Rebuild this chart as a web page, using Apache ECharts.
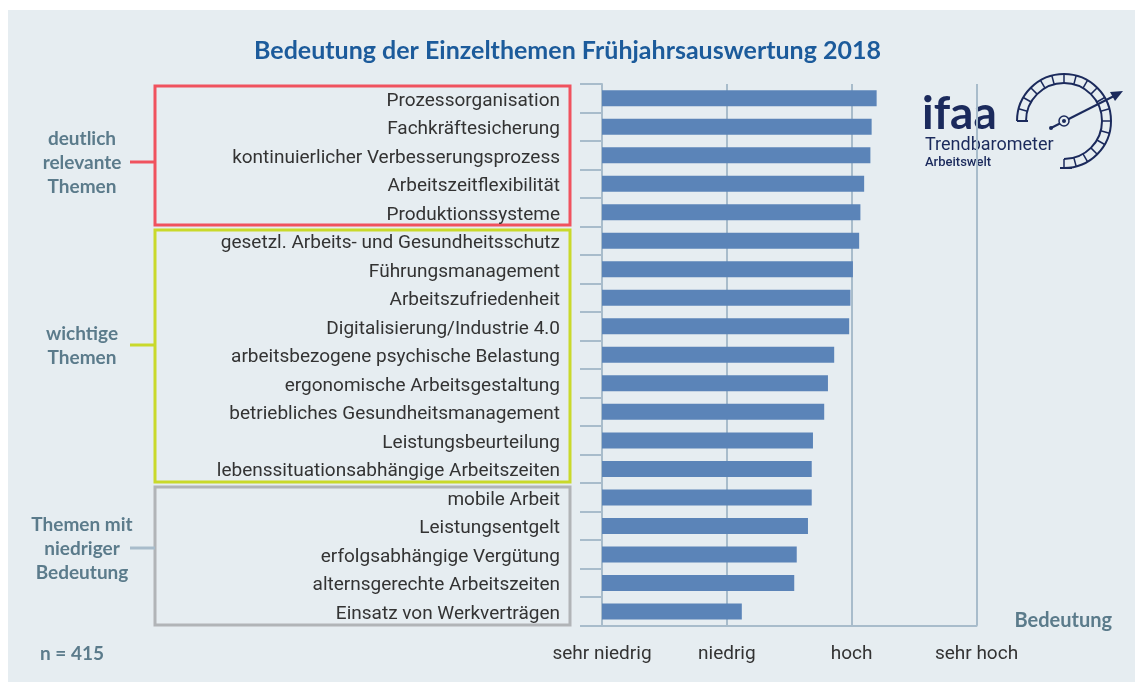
<!DOCTYPE html>
<html>
<head>
<meta charset="utf-8">
<title>Bedeutung der Einzelthemen</title>
<script src="https://cdn.jsdelivr.net/npm/echarts@6/dist/echarts.min.js"></script>
<style>
  html, body { margin: 0; padding: 0; background: #ffffff; }
  #bg { position: absolute; left: 8px; top: 10px; right: 0; bottom: 0; background: #e6edf1; }
  #main { position: absolute; left: 0; top: 0; width: 1135px; height: 682px; }
</style>
</head>
<body>
<div id="bg"></div>
<div id="main"></div>
<script>
// Themen (von oben nach unten)
var themen = [
  'Prozessorganisation',
  'Fachkräftesicherung',
  'kontinuierlicher Verbesserungsprozess',
  'Arbeitszeitflexibilität',
  'Produktionssysteme',
  'gesetzl. Arbeits- und Gesundheitsschutz',
  'Führungsmanagement',
  'Arbeitszufriedenheit',
  'Digitalisierung/Industrie 4.0',
  'arbeitsbezogene psychische Belastung',
  'ergonomische Arbeitsgestaltung',
  'betriebliches Gesundheitsmanagement',
  'Leistungsbeurteilung',
  'lebenssituationsabhängige Arbeitszeiten',
  'mobile Arbeit',
  'Leistungsentgelt',
  'erfolgsabhängige Vergütung',
  'alternsgerechte Arbeitszeiten',
  'Einsatz von Werkverträgen'
];
// mittlere Bedeutung (1 = sehr niedrig ... 4 = sehr hoch)
var bedeutung = [3.20, 3.16, 3.15, 3.10, 3.07, 3.06, 3.01, 2.99, 2.98, 2.86,
  2.81, 2.78, 2.69, 2.68, 2.68, 2.65, 2.56, 2.54, 2.12];
// Skala
var skala = ['sehr niedrig', 'niedrig', 'hoch', 'sehr hoch'];
// Gruppen
var gruppen = [
  ['deutlich', 'relevante', 'Themen'],
  ['wichtige', 'Themen'],
  ['Themen mit', 'niedriger', 'Bedeutung']
];

var slate = '#5b7b8b';
var navy = '#1b2a5c';
var achse = '#a8bccb';

var chart = echarts.init(document.getElementById('main'), null, { renderer: 'canvas' });

// Logo (Tacho)
var cx = 1064, cy = 121, rOut = 47, rIn = 38;
var logo = [];
logo.push({ type: 'arc', shape: { cx: cx, cy: cy, r: rOut, startAngle: Math.PI, endAngle: Math.PI * 2.5, clockwise: true },
  style: { stroke: navy, lineWidth: 2, fill: null } });
logo.push({ type: 'arc', shape: { cx: cx, cy: cy, r: rIn, startAngle: Math.PI, endAngle: Math.PI * 2.5, clockwise: true },
  style: { stroke: navy, lineWidth: 2, fill: null } });
for (var a = 180; a <= 450; a += 15) {
  var t = a * Math.PI / 180;
  logo.push({ type: 'line', shape: { x1: cx + rIn * Math.cos(t), y1: cy + rIn * Math.sin(t), x2: cx + rOut * Math.cos(t), y2: cy + rOut * Math.sin(t) },
    style: { stroke: navy, lineWidth: 1.5 } });
}
logo.push({ type: 'line', shape: { x1: cx - rOut, y1: cy, x2: cx - rIn + 2, y2: cy }, style: { stroke: navy, lineWidth: 2 } });
logo.push({ type: 'line', shape: { x1: cx - 4, y1: cy + rOut, x2: cx + 8, y2: cy + rOut }, style: { stroke: navy, lineWidth: 2 } });
logo.push({ type: 'line', shape: { x1: 1051, y1: 128, x2: 1116, y2: 95 }, style: { stroke: navy, lineWidth: 2 } });
logo.push({ type: 'polygon', shape: { points: [[1123, 91], [1110, 92], [1115, 101]] }, style: { fill: navy } });
logo.push({ type: 'circle', shape: { cx: cx, cy: cy, r: 5 }, style: { stroke: navy, lineWidth: 1.5, fill: '#e6edf1' } });
logo.push({ type: 'circle', shape: { cx: cx, cy: cy, r: 2 }, style: { fill: navy } });
logo.push({ type: 'circle', shape: { cx: 1051, cy: 128, r: 2 }, style: { fill: navy } });
logo.push({ type: 'text', x: 922, y: 114, style: { text: 'ifaa', font: 'bold 46px Lato', fill: navy, textAlign: 'left', textVerticalAlign: 'middle' } });
logo.push({ type: 'text', x: 925, y: 145, style: { text: 'Trendbarometer', font: '18px Roboto', fill: navy, textAlign: 'left', textVerticalAlign: 'middle' } });
logo.push({ type: 'text', x: 925, y: 163, style: { text: 'Arbeitswelt', font: '500 13px Roboto', fill: navy, textAlign: 'left', textVerticalAlign: 'middle' } });

// Gruppenrahmen
var boxes = [
  { y1: 86, y2: 225, color: '#f0525e', ty: 162 },
  { y1: 230, y2: 482, color: '#c9d92b', ty: 345 },
  { y1: 487, y2: 625, color: '#b1b4b7', ty: 548 }
];
var rahmen = [];
boxes.forEach(function (b, i) {
  rahmen.push({ type: 'rect', shape: { x: 155, y: b.y1, width: 415, height: b.y2 - b.y1 },
    style: { stroke: b.color, lineWidth: 3, fill: null } });
  rahmen.push({ type: 'line', shape: { x1: 130, y1: b.ty, x2: 155, y2: b.ty },
    style: { stroke: i === 2 ? '#a8bccb' : b.color, lineWidth: 3 } });
  rahmen.push({ type: 'text', x: 82, y: b.ty + 1, style: {
    text: gruppen[i].join('\n'), font: 'bold 19px Lato', lineHeight: 24, fill: slate,
    textAlign: 'center', textVerticalAlign: 'middle' } });
});

var option = {
  animation: false,
  title: {
    text: 'Bedeutung der Einzelthemen Frühjahrsauswertung 2018',
    left: 'center',
    top: 33,
    textStyle: { color: '#1c5b9b', fontFamily: 'Lato', fontWeight: 'bold', fontSize: 25 }
  },
  grid: { left: 602, right: 158.5, top: 84, bottom: 56.3, containLabel: false },
  xAxis: {
    type: 'value',
    min: 1,
    max: 4,
    interval: 1,
    axisLine: { show: true, lineStyle: { color: achse, width: 2 } },
    axisTick: { show: false },
    splitLine: { show: true, lineStyle: { color: achse, width: 2 } },
    axisLabel: {
      margin: 19,
      color: '#333333',
      fontFamily: 'Roboto',
      fontSize: 19,
      formatter: function (v) { return skala[Math.round(v) - 1]; }
    }
  },
  yAxis: {
    type: 'category',
    inverse: true,
    data: themen,
    axisLine: { show: true, lineStyle: { color: achse, width: 2 } },
    axisTick: { show: true, length: 22, lineStyle: { color: achse, width: 2 } },
    axisLabel: {
      margin: 42,
      formatter: function (v) { return '{t|' + v + '}'; },
      rich: { t: { color: '#333333', fontFamily: 'Roboto', fontSize: 19, padding: [5, 0, 0, 0] } }
    }
  },
  series: [{
    type: 'bar',
    data: bedeutung,
    barWidth: 16,
    itemStyle: { color: '#5b84b8' }
  }],
  graphic: rahmen.concat(logo).concat([
    { type: 'text', x: 1112, y: 621, style: { text: 'Bedeutung', font: 'bold 20px Lato', fill: slate, textAlign: 'right', textVerticalAlign: 'middle' } },
    { type: 'text', x: 40, y: 654, style: { text: 'n = 415', font: 'bold 19px Lato', fill: slate, textAlign: 'left', textVerticalAlign: 'middle' } }
  ])
};

chart.setOption(option);
</script>
</body>
</html>
